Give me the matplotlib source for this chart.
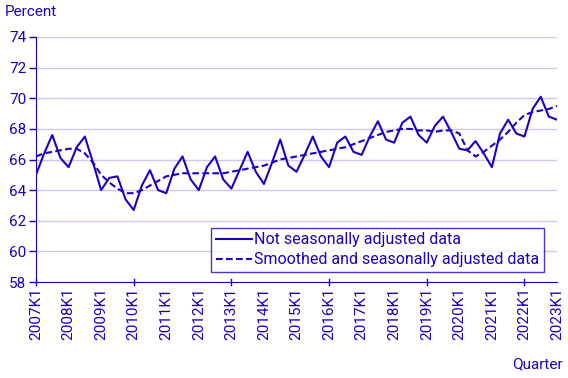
import matplotlib
matplotlib.use("Agg")
import matplotlib.pyplot as plt

plt.rcParams['font.family'] = ['Roboto', 'DejaVu Sans']

years = list(range(2007, 2024))
quarters = [f"{y}K{q}" for y in range(2007, 2024) for q in range(1, 5)][:65]

not_adjusted = [65.0, 66.4, 67.6, 66.1, 65.5, 66.8, 67.5, 65.8, 64.0, 64.8, 64.9, 63.4,
                62.7, 64.3, 65.3, 64.0, 63.8, 65.4, 66.2, 64.7, 64.0, 65.5, 66.2, 64.7,
                64.1, 65.3, 66.5, 65.2, 64.4, 65.8, 67.3, 65.6, 65.2, 66.3, 67.5, 66.2,
                65.5, 67.1, 67.5, 66.5, 66.3, 67.5, 68.5, 67.3, 67.1, 68.4, 68.8, 67.6,
                67.1, 68.2, 68.8, 67.8, 66.7, 66.6, 67.2, 66.4, 65.5, 67.7, 68.6, 67.7,
                67.5, 69.3, 70.1, 68.8, 68.6]
smoothed = [66.2, 66.4, 66.5, 66.6, 66.7, 66.7, 66.4, 65.8, 65.0, 64.5, 64.1, 63.8,
            63.8, 64.0, 64.3, 64.6, 64.9, 65.0, 65.1, 65.1, 65.1, 65.1, 65.1, 65.1,
            65.2, 65.3, 65.4, 65.5, 65.6, 65.8, 66.0, 66.1, 66.2, 66.3, 66.4, 66.5,
            66.6, 66.7, 66.8, 67.0, 67.2, 67.4, 67.6, 67.8, 67.9, 68.0, 68.0, 67.9,
            67.9, 67.8, 67.9, 67.9, 67.7, 66.6, 66.2, 66.5, 66.9, 67.3, 67.8, 68.4,
            68.9, 69.1, 69.2, 69.3, 69.5]

series_labels = ["Not seasonally adjusted data", "Smoothed and seasonally adjusted data"]
y_ticks = [58, 60, 62, 64, 66, 68, 70, 72, 74]

blue = "#1E00BE"
grid_c = "#CCC8F0"

fig = plt.figure(figsize=(5.68, 3.78), dpi=100)
ax = fig.add_axes([36/568, 1-282/378, (557-36)/568, (282-37)/378])

x = list(range(len(quarters)))
ax.plot(x, not_adjusted, color=blue, lw=1.5, label=series_labels[0])
ax.plot(x, smoothed, color=blue, lw=1.5, ls=(0, (3.2, 1.6)), label=series_labels[1])

ax.set_xlim(0, len(quarters) - 1)
ax.set_ylim(58, 74)
ax.set_yticks(y_ticks)
ax.set_yticklabels([str(v) for v in y_ticks], color=blue, fontsize=11)
label_pos = [i for i, q in enumerate(quarters) if q.endswith("K1")]
ax.set_xticks(label_pos)
ax.set_xticklabels([quarters[i] for i in label_pos], rotation=90, color=blue, fontsize=11)
major_ticks = [i for i in label_pos if (int(quarters[i][:4]) - 2007) % 3 == 0]
ax.tick_params(axis='x', length=0, pad=4)
for i in major_ticks:
    ax.plot([i, i], [-0.012, 0.012], transform=ax.get_xaxis_transform(), color=blue, lw=1, clip_on=False)
ax.tick_params(axis='y', length=5, color=blue, width=1, pad=2)

ax.grid(axis='y', color=grid_c, lw=1)
ax.set_axisbelow(True)
for s in ['top', 'right']:
    ax.spines[s].set_visible(False)
ax.spines['left'].set_color(blue)
ax.spines['bottom'].set_color(blue)

leg = ax.legend(loc='lower right', bbox_to_anchor=(0.975, 0.041), borderaxespad=0,
                frameon=True, fancybox=False,
                fontsize=11.5, handlelength=2.25, borderpad=0.3, labelspacing=0.3,
                handletextpad=0.15)
leg.get_frame().set_edgecolor(blue)
leg.get_frame().set_linewidth(1)
for t in leg.get_texts():
    t.set_color(blue)

fig.text(5/568, 1-12/378, "Percent", color=blue, fontsize=11, va='center', ha='left')
fig.text(563/568, 1-364/378, "Quarter", color=blue, fontsize=11, va='center', ha='right')

fig.savefig("out.png", dpi=100)
